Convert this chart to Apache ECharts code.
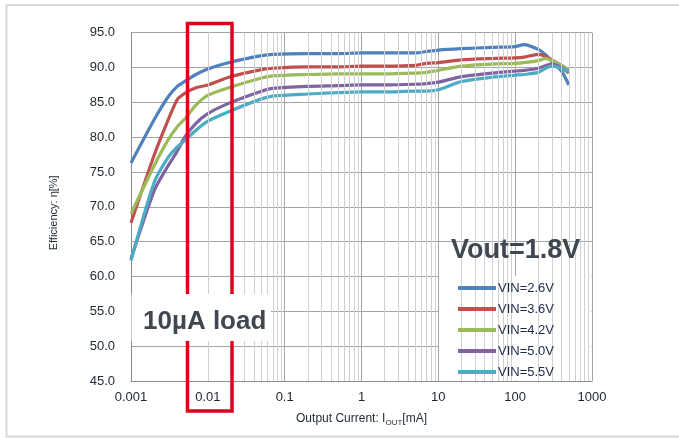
<!DOCTYPE html>
<html>
<head>
<meta charset="utf-8">
<script src="https://cdn.jsdelivr.net/npm/echarts@6/dist/echarts.min.js"></script>
<style>
html,body{margin:0;padding:0;background:#fff;}
#chart{width:679px;height:438px;}
</style>
</head>
<body>
<div id="chart"></div>
<script>
// Output current [mA]
const currents = [0.001, 0.002, 0.003, 0.004, 0.005, 0.007, 0.01, 0.02, 0.05, 0.07, 0.2, 0.5, 1, 2, 5, 7, 10, 20, 50, 100, 130, 200, 250, 300, 400, 500];
// Efficiency [%]
const vin26 = [76.3, 82.5, 85.7, 87.3, 88.0, 89.0, 89.8, 90.8, 91.7, 91.9, 92.0, 92.0, 92.1, 92.1, 92.1, 92.3, 92.5, 92.7, 92.9, 93.0, 93.3, 92.6, 91.8, 90.9, 89.5, 87.5];
const vin36 = [67.7, 77.4, 82.3, 85.4, 86.3, 87.1, 87.5, 88.7, 89.7, 89.9, 90.1, 90.1, 90.2, 90.2, 90.3, 90.6, 90.7, 91.1, 91.3, 91.4, 91.5, 91.9, 91.6, 91.1, 90.3, 89.6];
const vin42 = [69.0, 75.9, 79.5, 81.5, 82.6, 84.6, 86.0, 87.2, 88.5, 88.8, 89.0, 89.1, 89.1, 89.1, 89.2, 89.3, 89.6, 90.2, 90.5, 90.6, 90.7, 91.0, 91.3, 91.0, 90.3, 89.6];
const vin50 = [62.5, 72.3, 75.8, 78.0, 80.0, 82.0, 83.4, 85.0, 86.6, 87.0, 87.3, 87.4, 87.5, 87.5, 87.6, 87.7, 87.9, 88.7, 89.2, 89.5, 89.6, 89.9, 90.3, 90.5, 90.0, 89.2];
const vin55 = [62.3, 73.5, 77.0, 78.6, 79.5, 81.0, 82.3, 83.8, 85.5, 85.9, 86.2, 86.4, 86.5, 86.5, 86.6, 86.6, 86.8, 88.0, 88.6, 88.9, 89.0, 89.3, 89.9, 90.2, 89.9, 89.4];
const seriesNames = ['VIN=2.6V', 'VIN=3.6V', 'VIN=4.2V', 'VIN=5.0V', 'VIN=5.5V'];
const seriesColors = ['#4F81BD', '#C0504D', '#9BBB59', '#8064A2', '#4BACC6'];
const xTickLabels = ['0.001', '0.01', '0.1', '1', '10', '100', '1000'];
const minorGridValues = [];
[0.001, 0.01, 0.1, 1, 10, 100].forEach(d => { for (let k = 2; k <= 9; k++) minorGridValues.push(+(k * d).toPrecision(3)); });

const allValues = [vin26, vin36, vin42, vin50, vin55];
const chart = echarts.init(document.getElementById('chart'));

const series = allValues.map((vals, i) => ({
  name: seriesNames[i],
  type: 'line',
  data: currents.map((c, j) => [c, vals[j]]),
  symbol: 'none',
  smooth: 0.25,
  lineStyle: { width: 3.2, color: seriesColors[i] },
  itemStyle: { color: seriesColors[i] },
  z: 2
}));
series.unshift({
  name: '_minor',
  type: 'line',
  data: [],
  z: 0,
  silent: true,
  markLine: {
    silent: true,
    symbol: ['none', 'none'],
    label: { show: false },
    lineStyle: { type: 'solid', color: '#d0d0d0', width: 1 },
    emphasis: { disabled: true },
    data: minorGridValues.map(v => ({ xAxis: v }))
  }
});

const txt = '#1e2631';
chart.setOption({
  animation: false,
  backgroundColor: '#fff',
  grid: { left: 131, right: 87, top: 32.7, bottom: 57 },
  xAxis: {
    type: 'log', logBase: 10, min: 0.001, max: 1000,
    name: '{a|Output Current: I}{s|OUT}{a|[mA]}',
    nameLocation: 'middle', nameGap: 30,
    nameTextStyle: {
      rich: {
        a: { fontSize: 12, color: txt, fontFamily: 'Liberation Sans', lineHeight: 16, verticalAlign: 'middle' },
        s: { fontSize: 8, color: txt, fontFamily: 'Liberation Sans', lineHeight: 8, verticalAlign: 'bottom' }
      }
    },
    axisLine: { lineStyle: { color: '#8c8c8c', width: 1 } },
    axisTick: { show: false },
    axisLabel: {
      fontSize: 13, color: txt, fontFamily: 'Liberation Sans', margin: 10,
      formatter: v => xTickLabels[Math.round(Math.log10(v)) + 3]
    },
    splitLine: { show: true, lineStyle: { color: '#a4a4a4', width: 1 } },
    minorTick: { show: false }, minorSplitLine: { show: false }
  },
  yAxis: {
    type: 'value', min: 45, max: 95, interval: 5,
    name: 'Efficiency: η[%]', nameLocation: 'middle', nameGap: 72,
    nameTextStyle: { fontSize: 11, color: txt, fontFamily: 'Liberation Sans', padding: [0, 12, 0, 0] },
    axisLine: { show: true, lineStyle: { color: '#8c8c8c', width: 1 } },
    axisTick: { show: false },
    axisLabel: { fontSize: 13, color: txt, fontFamily: 'Liberation Sans', margin: 16, formatter: v => v.toFixed(1) },
    splitLine: { show: true, lineStyle: { color: '#a4a4a4', width: 1 } }
  },
  legend: {
    data: seriesNames,
    orient: 'vertical', left: 453, top: 275.5,
    itemWidth: 38, itemHeight: 4, itemGap: 6, icon: 'rect',
    textStyle: { fontSize: 13, color: '#1c2a48', fontFamily: 'Liberation Sans', lineHeight: 15, padding: [0, 0, 0, -3] },
    z: 6
  },
  graphic: [
    { type: 'rect', z: 1, silent: true, shape: { x: 6.5, y: 5, width: 690, height: 431.5 }, style: { fill: 'none', stroke: '#d9d9d9', lineWidth: 2 } },
    { type: 'rect', z: 3, silent: true, shape: { x: 439, y: 276, width: 152.5, height: 104.5 }, style: { fill: '#fff' } },
    { type: 'rect', z: 8, silent: true, shape: { x: 187.5, y: 23.5, width: 44.5, height: 387.5 }, style: { fill: 'none', stroke: '#e0001b', lineWidth: 3.5 } },
    { type: 'rect', z: 9, silent: true, shape: { x: 131.5, y: 294, width: 139.5, height: 47 }, style: { fill: '#fff' } },
    { type: 'text', z: 10, silent: true, left: 143, top: 309, style: { text: '10µA load', fontSize: 26, fontWeight: 'bold', fill: '#3f4750', fontFamily: 'Liberation Sans' } },
    { type: 'text', z: 10, silent: true, left: 451, top: 237, style: { text: 'Vout=1.8V', fontSize: 27, fontWeight: 'bold', fill: '#3f4750', fontFamily: 'Liberation Sans' } }
  ],
  series: series
});
</script>
</body>
</html>
